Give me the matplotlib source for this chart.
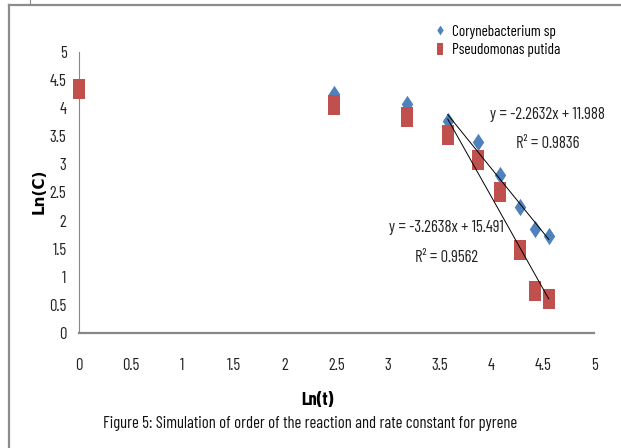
import matplotlib
matplotlib.use("Agg")
import matplotlib.pyplot as plt
import numpy as np
from matplotlib.lines import Line2D
from matplotlib.path import Path

# ln(t) sampling points and ln(C) readings for the two strains
ln_t = [0, 2.48, 3.18, 3.58, 3.87, 4.09, 4.28, 4.43, 4.56]
coryne = [4.34, 4.26, 4.08, 3.78, 3.40, 2.81, 2.24, 1.85, 1.73]
pseudo = [4.34, 4.06, 3.85, 3.53, 3.08, 2.51, 1.48, 0.75, 0.60]

# linear trendlines fitted over the last six points
fit_range = [3.58, 4.56]
coryne_fit = (-2.2632, 11.988, 0.9836)
pseudo_fit = (-3.2638, 15.491, 0.9562)

labels = ["Corynebacterium sp", "Pseudomonas putida"]
ticks = [0, 0.5, 1, 1.5, 2, 2.5, 3, 3.5, 4, 4.5, 5]

BLUE = "#4F81BD"
RED = "#C0504D"
AXIS_GRAY = "#878787"
# narrow face to mimic the squashed Calibri of the original; falls back to DejaVu
NARROW = ["Barlow Condensed", "Archivo Narrow", "Liberation Sans Narrow", "DejaVu Sans"]

# stretched markers (the source image is squashed horizontally)
rect = Path([(-0.28, -0.5), (0.28, -0.5), (0.28, 0.5), (-0.28, 0.5), (-0.28, -0.5)],
            [Path.MOVETO, Path.LINETO, Path.LINETO, Path.LINETO, Path.CLOSEPOLY])
diamond = Path([(0, 0.5), (0.33, 0), (0, -0.5), (-0.33, 0), (0, 0.5)],
               [Path.MOVETO, Path.LINETO, Path.LINETO, Path.LINETO, Path.CLOSEPOLY])

fig = plt.figure(figsize=(6.21, 4.48), dpi=100)
ax = fig.add_axes([79 / 621, 1 - 333 / 448, 515 / 621, 281 / 448])

ax.plot(ln_t, coryne, linestyle="none", marker=diamond, markersize=12.5,
        color=BLUE, markeredgewidth=0, clip_on=False, zorder=3)
ax.plot(ln_t, pseudo, linestyle="none", marker=rect, markersize=14.5,
        color=RED, markeredgewidth=0, clip_on=False, zorder=4)

xs = np.array(fit_range)
for slope, icpt, _ in (coryne_fit, pseudo_fit):
    ax.plot(xs, slope * xs + icpt, color="black", linewidth=0.7, zorder=5)

eq_kw = dict(family=NARROW, fontsize=12, ha="center", va="center", color="#222222")
ax.text(4.55, 3.88, f"y = {coryne_fit[0]}x + {coryne_fit[1]}", **eq_kw)
ax.text(4.55, 3.38, f"R² = {coryne_fit[2]}", **eq_kw)
ax.text(3.57, 1.88, f"y = {pseudo_fit[0]}x + {pseudo_fit[1]}", **eq_kw)
ax.text(3.57, 1.35, f"R² = {pseudo_fit[2]}", **eq_kw)

ax.set_xlim(0, 5)
ax.set_ylim(0, 5)
ax.set_xticks(ticks)
ax.set_yticks(ticks)
ax.set_xticklabels([f"{t:g}" for t in ticks], family=NARROW, fontsize=12)
ax.set_yticklabels([f"{t:g}" for t in ticks], family=NARROW, fontsize=12)
ax.tick_params(length=0, colors="#222222")
ax.tick_params(axis="x", pad=18)
ax.tick_params(axis="y", pad=9)
for side in ("top", "right"):
    ax.spines[side].set_visible(False)
ax.spines["left"].set_color(AXIS_GRAY)
ax.spines["left"].set_linewidth(0.8)
ax.spines["bottom"].set_color(AXIS_GRAY)
ax.spines["bottom"].set_linewidth(1.6)

fig.text(39 / 621, 1 - 191 / 448, "Ln(C)", rotation=90, fontsize=11,
         fontweight="bold", ha="center", va="center")
fig.text(317 / 621, 1 - 400 / 448, "Ln(t)", family=NARROW, fontsize=13,
         fontweight="bold", ha="center", va="center")
fig.text(310 / 621, 1 - 423 / 448,
         "Figure 5: Simulation of order of the reaction and rate constant for pyrene",
         family=NARROW, fontsize=12, ha="center", va="center", color="#111111")

handles = [
    Line2D([], [], linestyle="none", marker=diamond, markersize=7, color=BLUE,
           markeredgewidth=0),
    Line2D([], [], linestyle="none", marker=rect, markersize=8.5, color=RED,
           markeredgewidth=0),
]
fig.legend(handles, labels, loc="upper left", bbox_to_anchor=(428 / 621, 1 - 17 / 448),
           frameon=False, borderpad=0, handlelength=0.6, handletextpad=0.5,
           labelspacing=0.3, prop={"family": NARROW, "size": 11})

# outer frame remnants of the pasted figure
frame_kw = dict(color="#8c8c8c", linewidth=1.6, transform=fig.transFigure)
fig.add_artist(Line2D([9 / 621, 1], [1 - 5 / 448, 1 - 5 / 448], **frame_kw))
fig.add_artist(Line2D([9 / 621, 9 / 621], [0, 1 - 5 / 448], **frame_kw))
fig.add_artist(Line2D([30 / 621, 30 / 621], [1 - 5 / 448, 1], color="#8c8c8c",
                      linewidth=0.8, transform=fig.transFigure))

fig.savefig("out.png", dpi=100)
